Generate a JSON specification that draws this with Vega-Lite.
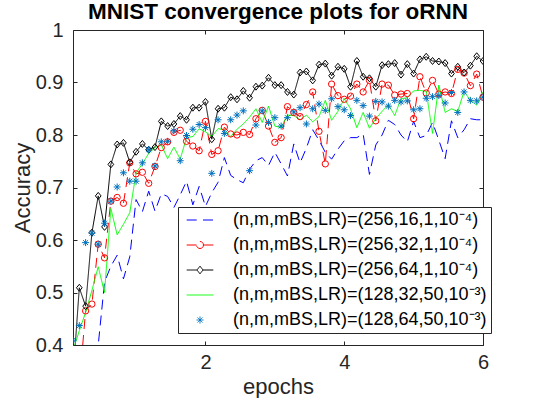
{
"$schema": "https://vega.github.io/schema/vega-lite/v6.json",
"width": 410, "height": 315,
"autosize": {"type": "none"},
"padding": {"left": 73, "top": 30, "right": 55, "bottom": 53},
"background": "white",
"config": {"view": {"stroke": "#262626", "strokeWidth": 1}, "font": "Liberation Sans"},
"title": {"text": "MNIST convergence plots for oRNN", "fontSize": 22.5, "fontWeight": "bold", "font": "Liberation Sans", "color": "#000000", "anchor": "middle", "frame": "group", "baseline": "alphabetic", "offset": 1, "dy": 22},
"data": {"values": [
{"ep":0.0909,"a":0.20,"b":0.28,"c":0.34,"d":0.39,"e":0.409},
{"ep":0.1818,"a":0.23,"b":0.324,"c":0.509,"d":0.427,"e":0.437},
{"ep":0.2727,"a":0.27,"b":0.465,"c":0.474,"d":0.462,"e":0.595},
{"ep":0.3636,"a":0.32,"b":0.478,"c":0.614,"d":0.504,"e":0.613},
{"ep":0.4545,"a":0.40,"b":0.592,"c":0.684,"d":0.549,"e":0.592},
{"ep":0.5455,"a":0.52,"b":0.566,"c":0.625,"d":0.50,"e":0.632},
{"ep":0.6364,"a":0.55,"b":0.674,"c":0.744,"d":0.66,"e":0.674},
{"ep":0.7273,"a":0.571,"b":0.681,"c":0.782,"d":0.61,"e":0.701},
{"ep":0.8182,"a":0.526,"b":0.670,"c":0.785,"d":0.63,"e":0.728},
{"ep":0.9091,"a":0.568,"b":0.747,"c":0.748,"d":0.652,"e":0.712},
{"ep":1.0,"a":0.677,"b":0.726,"c":0.768,"d":0.728,"e":0.712},
{"ep":1.0909,"a":0.654,"b":0.729,"c":0.783,"d":0.745,"e":0.747},
{"ep":1.1818,"a":0.693,"b":0.708,"c":0.772,"d":0.765,"e":0.772},
{"ep":1.2727,"a":0.655,"b":0.740,"c":0.777,"d":0.776,"e":0.741},
{"ep":1.3636,"a":0.688,"b":0.776,"c":0.826,"d":0.781,"e":0.787},
{"ep":1.4545,"a":0.683,"b":0.787,"c":0.817,"d":0.755,"e":0.788},
{"ep":1.5455,"a":0.662,"b":0.805,"c":0.821,"d":0.777,"e":0.808},
{"ep":1.6364,"a":0.686,"b":0.809,"c":0.836,"d":0.754,"e":0.751},
{"ep":1.7273,"a":0.712,"b":0.788,"c":0.829,"d":0.795,"e":0.799},
{"ep":1.8182,"a":0.667,"b":0.779,"c":0.852,"d":0.797,"e":0.811},
{"ep":1.9091,"a":0.702,"b":0.770,"c":0.852,"d":0.812,"e":0.820},
{"ep":2.0,"a":0.664,"b":0.826,"c":0.863,"d":0.806,"e":0.814},
{"ep":2.0909,"a":0.69,"b":0.763,"c":0.792,"d":0.797,"e":0.727},
{"ep":2.1818,"a":0.71,"b":0.770,"c":0.850,"d":0.812,"e":0.829},
{"ep":2.2727,"a":0.757,"b":0.815,"c":0.852,"d":0.810,"e":0.803},
{"ep":2.3636,"a":0.723,"b":0.802,"c":0.872,"d":0.797,"e":0.829},
{"ep":2.4545,"a":0.715,"b":0.800,"c":0.868,"d":0.811,"e":0.838},
{"ep":2.5455,"a":0.709,"b":0.805,"c":0.884,"d":0.821,"e":0.846},
{"ep":2.6364,"a":0.735,"b":0.801,"c":0.871,"d":0.834,"e":0.732},
{"ep":2.7273,"a":0.751,"b":0.831,"c":0.892,"d":0.850,"e":0.819},
{"ep":2.8182,"a":0.757,"b":0.847,"c":0.894,"d":0.824,"e":0.846},
{"ep":2.9091,"a":0.742,"b":0.817,"c":0.909,"d":0.855,"e":0.824},
{"ep":3.0,"a":0.767,"b":0.786,"c":0.895,"d":0.817,"e":0.833},
{"ep":3.0909,"a":0.745,"b":0.795,"c":0.895,"d":0.814,"e":0.817},
{"ep":3.1818,"a":0.722,"b":0.854,"c":0.882,"d":0.838,"e":0.833},
{"ep":3.2727,"a":0.783,"b":0.843,"c":0.877,"d":0.837,"e":0.844},
{"ep":3.3636,"a":0.747,"b":0.835,"c":0.919,"d":0.829,"e":0.852},
{"ep":3.4545,"a":0.775,"b":0.858,"c":0.921,"d":0.838,"e":0.821},
{"ep":3.5455,"a":0.81,"b":0.882,"c":0.904,"d":0.825,"e":0.850},
{"ep":3.6364,"a":0.79,"b":0.807,"c":0.934,"d":0.835,"e":0.859},
{"ep":3.7273,"a":0.767,"b":0.745,"c":0.936,"d":0.866,"e":0.847},
{"ep":3.8182,"a":0.754,"b":0.897,"c":0.913,"d":0.828,"e":0.869},
{"ep":3.9091,"a":0.773,"b":0.875,"c":0.930,"d":0.845,"e":0.854},
{"ep":4.0,"a":0.789,"b":0.868,"c":0.926,"d":0.869,"e":0.848},
{"ep":4.0909,"a":0.795,"b":0.874,"c":0.892,"d":0.850,"e":0.837},
{"ep":4.1818,"a":0.795,"b":0.897,"c":0.941,"d":0.814,"e":0.866},
{"ep":4.2727,"a":0.802,"b":0.882,"c":0.911,"d":0.843,"e":0.856},
{"ep":4.3636,"a":0.725,"b":0.904,"c":0.908,"d":0.813,"e":0.836},
{"ep":4.4545,"a":0.781,"b":0.827,"c":0.892,"d":0.831,"e":0.864},
{"ep":4.5455,"a":0.80,"b":0.897,"c":0.933,"d":0.845,"e":0.863},
{"ep":4.6364,"a":0.828,"b":0.895,"c":0.935,"d":0.858,"e":0.855},
{"ep":4.7273,"a":0.82,"b":0.876,"c":0.937,"d":0.837,"e":0.866},
{"ep":4.8182,"a":0.80,"b":0.878,"c":0.915,"d":0.869,"e":0.863},
{"ep":4.9091,"a":0.787,"b":0.879,"c":0.935,"d":0.871,"e":0.865},
{"ep":5.0,"a":0.826,"b":0.831,"c":0.917,"d":0.884,"e":0.848},
{"ep":5.0909,"a":0.795,"b":0.911,"c":0.944,"d":0.885,"e":0.850},
{"ep":5.1818,"a":0.799,"b":0.880,"c":0.949,"d":0.883,"e":0.870},
{"ep":5.2727,"a":0.824,"b":0.904,"c":0.941,"d":0.803,"e":0.873},
{"ep":5.3636,"a":0.79,"b":0.878,"c":0.940,"d":0.895,"e":0.875},
{"ep":5.4545,"a":0.755,"b":0.882,"c":0.937,"d":0.843,"e":0.861},
{"ep":5.5455,"a":0.827,"b":0.879,"c":0.917,"d":0.850,"e":0.881},
{"ep":5.6364,"a":0.795,"b":0.925,"c":0.930,"d":0.845,"e":0.843},
{"ep":5.7273,"a":0.81,"b":0.918,"c":0.919,"d":0.883,"e":0.882},
{"ep":5.8182,"a":0.831,"b":0.894,"c":0.932,"d":0.866,"e":0.866},
{"ep":5.9091,"a":0.829,"b":0.916,"c":0.950,"d":0.857,"e":0.865},
{"ep":6.0,"a":0.829,"b":0.872,"c":0.941,"d":0.882,"e":0.872}
]},
"transform": [{"fold": ["a","b","c","d","e"], "as": ["series","acc"]}],
"encoding": {
  "x": {"field": "ep", "type": "quantitative",
        "scale": {"domain": [0.0909, 6], "nice": false, "zero": false},
        "axis": {"values": [2,4,6], "format": "d", "labelFontSize": 20, "labelFont": "Liberation Sans", "labelColor": "#262626",
                 "tickColor": "#262626", "tickSize": -4, "domain": false, "grid": false, "labelPadding": 11, "labelFlush": false,
                 "title": "epochs", "titleFontSize": 22, "titleFontWeight": "normal", "titleColor": "#262626", "titleFont": "Liberation Sans",
                 "titleX": 205, "titleY": 48, "titleBaseline": "alphabetic"}},
  "y": {"field": "acc", "type": "quantitative",
        "scale": {"domain": [0.4, 1], "nice": false, "zero": false},
        "axis": {"values": [0.4,0.5,0.6,0.7,0.8,0.9,1], "format": ".1~f", "labelFontSize": 20, "labelFont": "Liberation Sans", "labelColor": "#262626",
                 "tickColor": "#262626", "tickSize": -4, "domain": false, "grid": false, "labelPadding": 14, "labelFlush": false,
                 "title": "Accuracy", "titleFontSize": 22, "titleFontWeight": "normal", "titleColor": "#262626", "titleFont": "Liberation Sans",
                 "titleX": -44, "titleY": 157.5, "titleBaseline": "alphabetic"}},
  "color": {"field": "series", "type": "nominal",
        "scale": {"domain": ["a","b","c","d","e"], "range": ["#0000ff","#ff0000","#000000","#00ff00","#0072bd"]},
        "legend": {"title": null, "orient": "none", "legendX": 105, "legendY": 177,
                   "fillColor": "white", "strokeColor": "#262626", "padding": 4, "rowPadding": 7,
                   "symbolSize": 49, "symbolOffset": 9, "labelOffset": 24, "symbolStrokeWidth": 1,
                   "labelFontSize": 18, "labelFont": "Liberation Sans", "labelColor": "#000000", "labelLimit": 400,
                   "labelExpr": "datum.value === 'a' ? '(n,m,mBS,LR)=(256,16,1,10⁻⁴)' : datum.value === 'b' ? '(n,m,mBS,LR)=(256,32,1,10⁻⁴)' : datum.value === 'c' ? '(n,m,mBS,LR)=(256,64,1,10⁻⁴)' : datum.value === 'd' ? '(n,m,mBS,LR)=(128,32,50,10⁻³)' : '(n,m,mBS,LR)=(128,64,50,10⁻³)'",
                   "encode": {"symbols": {"update": {
                      "shape": {"signal": "datum.value === 'a' ? 'M-3.8,0L-0.86,0M0.86,0L3.8,0' : datum.value === 'b' ? 'M-3.8,0L-1,0M1,0L3.8,0M1,0A1,1 0 1 1 -1,0A1,1 0 1 1 1,0' : datum.value === 'c' ? 'M-3.8,0L-0.86,0M0.86,0L3.8,0M0,-1.1L0.86,0L0,1.1L-0.86,0Z' : datum.value === 'd' ? 'M-3.8,0L3.8,0' : 'M-1,0L1,0M0,-1L0,1M-0.7,-0.7L0.7,0.7M-0.7,0.7L0.7,-0.7'"},
                      "stroke": {"scale": "color", "field": "value"},
                      "fill": {"value": "transparent"},
                      "strokeWidth": {"value": 1},
                      "strokeDash": {"value": []},
                      "size": {"value": 49},
                      "opacity": {"value": 1}}}}}}
},
"layer": [
  {"transform": [{"filter": "datum.series != 'e'"}],
   "mark": {"type": "line", "strokeWidth": 1, "clip": true},
   "encoding": {"strokeDash": {"field": "series", "type": "nominal", "legend": null,
        "scale": {"domain": ["a","b","c","d","e"], "range": [[10,6],[10,6],[1,0],[1,0],[1,0]]}}}},
  {"transform": [{"filter": "datum.series == 'b'"}],
   "mark": {"type": "point", "shape": "circle", "filled": false, "strokeWidth": 1, "clip": true, "opacity": 1, "size": 40},
   "encoding": {
     "x": {"field": "ep", "type": "quantitative", "axis": null},
     "y": {"field": "acc", "type": "quantitative", "axis": null}}},
  {"transform": [{"filter": "datum.series == 'c'"}],
   "mark": {"type": "point", "shape": "M0,-1.1L0.9,0L0,1.1L-0.9,0Z", "filled": false, "strokeWidth": 1, "clip": true, "opacity": 1, "size": 40},
   "encoding": {
     "x": {"field": "ep", "type": "quantitative", "axis": null},
     "y": {"field": "acc", "type": "quantitative", "axis": null}}},
  {"transform": [{"filter": "datum.series == 'e'"}],
   "mark": {"type": "point", "shape": "M-1.1,0L1.1,0M0,-1.1L0,1.1M-0.78,-0.78L0.78,0.78M-0.78,0.78L0.78,-0.78", "filled": false, "strokeWidth": 1, "clip": true, "opacity": 1, "size": 40},
   "encoding": {
     "x": {"field": "ep", "type": "quantitative",
           "axis": {"orient": "top", "values": [2,4,6], "labels": false, "title": null, "tickSize": -4, "tickColor": "#262626", "domain": false, "grid": false}},
     "y": {"field": "acc", "type": "quantitative",
           "axis": {"orient": "right", "values": [0.4,0.5,0.6,0.7,0.8,0.9,1], "labels": false, "title": null, "tickSize": -4, "tickColor": "#262626", "domain": false, "grid": false}}
   }}
],
"resolve": {"axis": {"x": "independent", "y": "independent"}}
}
